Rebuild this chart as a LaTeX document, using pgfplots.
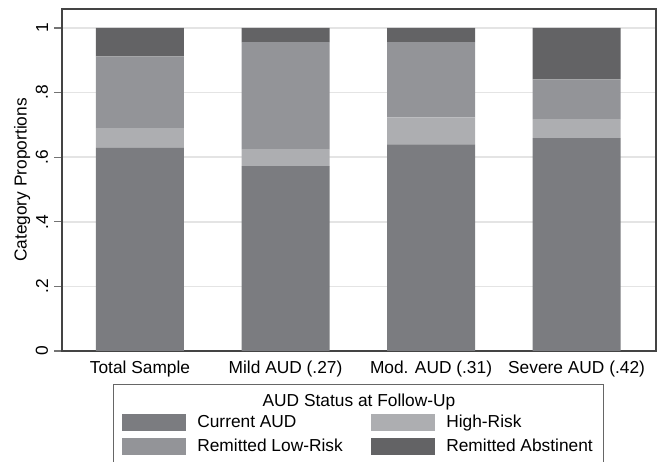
\documentclass[border=0pt]{standalone}
\usepackage{pgfplots}
\pgfplotsset{compat=1.18}
\usepackage{fontspec}
\setmainfont{Liberation Sans}
\usetikzlibrary{calc}
\definecolor{cur}{HTML}{7B7C80}
\definecolor{hr}{HTML}{ADAEB1}
\definecolor{lr}{HTML}{939498}
\definecolor{abst}{HTML}{636365}
\definecolor{gridc}{HTML}{E4E4E4}
\definecolor{framec}{HTML}{444444}
\begin{document}
\begin{tikzpicture}
\pgfplotsset{myleg/.style={legend image code/.code={\fill[##1] (0pt,-5.1pt) rectangle (38.4pt,5.1pt);}}}
\begin{axis}[
  scale only axis, width=356.4pt, height=205.2pt,
  font=\fontsize{10.4}{12.5}\selectfont,
  /pgf/number format/assume math mode=true,
  ybar stacked, bar width=52.8pt,
  xmin=-0.536, xmax=3.546, ymin=0, ymax=1.0588,
  xtick={0,1,2,3},
  xticklabels={Total Sample, Mild AUD (.27), Mod. AUD (.31), Severe AUD (.42)},
  x tick style={draw=none},
  xticklabel style={yshift=2.5pt},
  ytick={0,0.2,0.4,0.6,0.8,1},
  yticklabels={0,.2,.4,.6,.8,1},
  ytick pos=left,
  yticklabel style={rotate=90, anchor=south},
  ymajorgrids, grid style={gridc, line width=1pt},
  y tick style={black!55, line width=0.8pt},
  tick align=outside, major tick length=4.8pt,
  axis line style={framec, line width=0.7pt},
  ylabel={Category Proportions},
  ylabel style={at={(axis description cs:-0.0673,0.5)}, anchor=center},
  clip=false,
  legend columns=2,
  legend cell align=left,
  legend style={at={(rel axis cs:0.1010,-0.1842)}, anchor=north west, draw=none, fill=none,
    inner sep=0pt, row sep=4.2pt, column sep=0pt, nodes={inner sep=0pt},
    font=\fontsize{10.4}{12.5}\selectfont},
]
\addplot[fill=cur, draw=none, myleg] coordinates {(0,0.629) (1,0.572) (2,0.640) (3,0.659)};
\addlegendentry{\makebox[111pt][l]{\hspace{6.6pt}Current AUD}}
\addplot[fill=hr, draw=none, myleg] coordinates {(0,0.061) (1,0.053) (2,0.083) (3,0.059)};
\addlegendentry{\hspace{6.6pt}High-Risk}
\addplot[fill=lr, draw=none, myleg] coordinates {(0,0.222) (1,0.331) (2,0.233) (3,0.123)};
\addlegendentry{\makebox[111pt][l]{\hspace{6.6pt}Remitted Low-Risk}}
\addplot[fill=abst, draw=none, myleg] coordinates {(0,0.088) (1,0.044) (2,0.044) (3,0.159)};
\addlegendentry{\hspace{6.6pt}Remitted Abstinent}
\draw[black!60, line width=0.6pt] (rel axis cs:0.0875,-0.0965) rectangle (rel axis cs:0.9108,-0.45);
\node[anchor=base, font=\fontsize{10.4}{12.5}\selectfont] at (rel axis cs:0.5,-0.161) {AUD Status at Follow-Up};
\end{axis}
\pgfresetboundingbox
\path[use as bounding box] ($(current axis.south west)+(-37.2pt,-66.6pt)$) rectangle ($(current axis.north east)+(4.2pt,5.4pt)$);
\end{tikzpicture}
\end{document}
